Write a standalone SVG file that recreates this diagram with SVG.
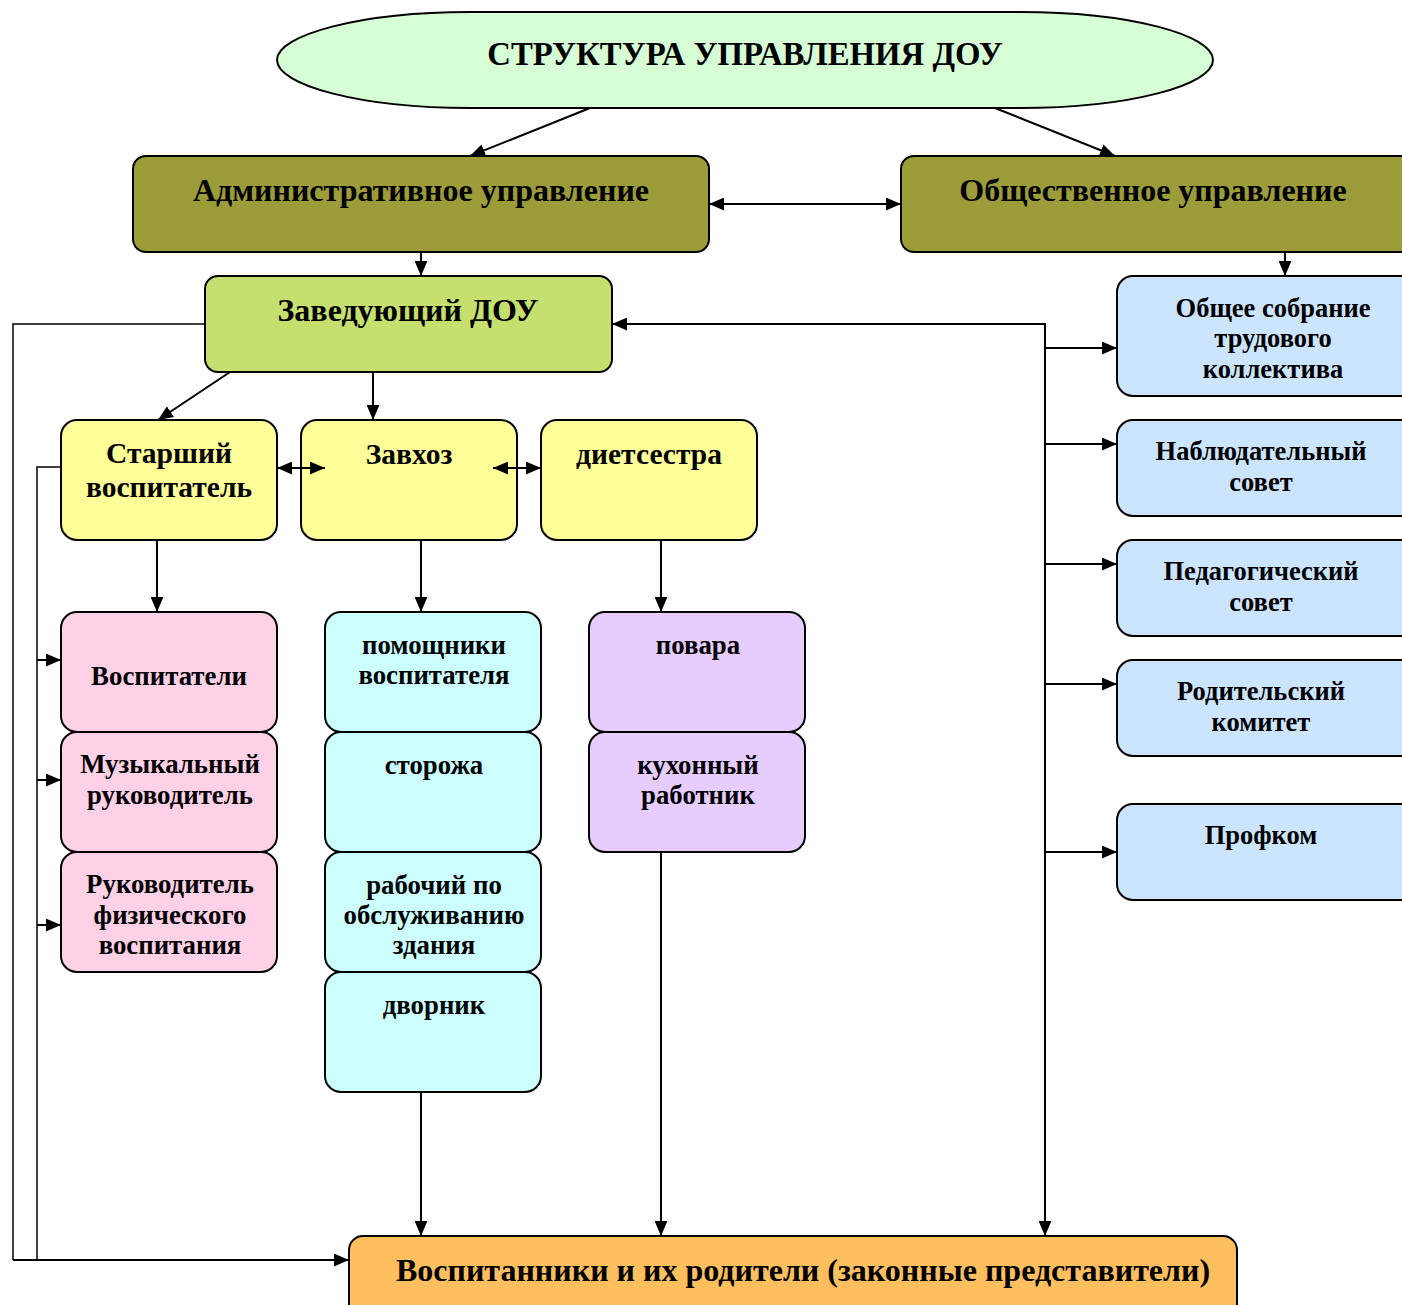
<svg xmlns="http://www.w3.org/2000/svg" width="1402" height="1305" viewBox="0 0 1402 1305">
<defs>
<marker id="ah" viewBox="0 0 14 12" refX="14" refY="6" markerWidth="15" markerHeight="13" markerUnits="userSpaceOnUse" orient="auto-start-reverse">
<path d="M0,0 L14,6 L0,12 Z" fill="#000"/>
</marker>
<style>
.b{stroke:#000;stroke-width:2}
.t{font-family:"Liberation Serif","Times New Roman",serif;font-weight:bold;text-anchor:middle;fill:#000}
.h{font-size:32px}
.y{font-size:29.5px}
.s{font-size:26.8px}
.r{font-size:26.5px}
.c{fill:none;stroke:#000;stroke-width:2}
.c1{fill:none;stroke:#000;stroke-width:1.5}
</style>
</defs>
<rect width="1402" height="1305" fill="#fff"/>

<g id="title">
<path class="b" fill="#D6FFD6" d="M470,12 L1020,12 C1130,12 1213,35 1213,60 C1213,85 1130,108 1020,108 L470,108 C360,108 277,85 277,60 C277,35 360,12 470,12 Z"/>
<text class="t" x="745" y="65" font-size="32.8">СТРУКТУРА УПРАВЛЕНИЯ ДОУ</text>
</g>

<g id="admin">
<rect class="b" x="133" y="156" width="576" height="96" rx="13" fill="#9C9C3A"/>
<text class="t h" x="421" y="201">Административное управление</text>
</g>
<g id="obsh">
<rect class="b" x="901" y="156" width="520" height="96" rx="13" fill="#9C9C3A"/>
<text class="t h" x="1153" y="201">Общественное управление</text>
</g>
<g id="zaved">
<rect class="b" x="205" y="276" width="407" height="96" rx="13" fill="#C5E06E"/>
<text class="t h" x="408" y="321">Заведующий ДОУ</text>
</g>

<g id="starshiy">
<rect class="b" x="61" y="420" width="216" height="120" rx="16" fill="#FFFF99"/>
<text class="t y" x="169" y="463">Старший</text>
<text class="t y" x="169" y="497">воспитатель</text>
</g>
<g id="zavhoz">
<rect class="b" x="301" y="420" width="216" height="120" rx="16" fill="#FFFF99"/>
<text class="t y" x="409" y="464">Завхоз</text>
</g>
<g id="dietsestra">
<rect class="b" x="541" y="420" width="216" height="120" rx="16" fill="#FFFF99"/>
<text class="t y" x="649" y="464">диетсестра</text>
</g>

<g id="vospitateli">
<rect class="b" x="61" y="612" width="216" height="120" rx="16" fill="#FFD1E6"/>
<text class="t s" x="169" y="685">Воспитатели</text>
</g>
<g id="muz">
<rect class="b" x="61" y="732" width="216" height="120" rx="16" fill="#FFD1E6"/>
<text class="t s" x="170" y="773">Музыкальный</text>
<text class="t s" x="170" y="804">руководитель</text>
</g>
<g id="fiz">
<rect class="b" x="61" y="852" width="216" height="120" rx="16" fill="#FFD1E6"/>
<text class="t s" x="170" y="893">Руководитель</text>
<text class="t s" x="170" y="924">физического</text>
<text class="t s" x="170" y="954">воспитания</text>
</g>

<g id="pomoshniki">
<rect class="b" x="325" y="612" width="216" height="120" rx="16" fill="#CCFFFF"/>
<text class="t s" x="434" y="654">помощники</text>
<text class="t s" x="434" y="684">воспитателя</text>
</g>
<g id="storozha">
<rect class="b" x="325" y="732" width="216" height="120" rx="16" fill="#CCFFFF"/>
<text class="t s" x="434" y="774">сторожа</text>
</g>
<g id="rabochiy">
<rect class="b" x="325" y="852" width="216" height="120" rx="16" fill="#CCFFFF"/>
<text class="t s" x="434" y="894">рабочий по</text>
<text class="t s" x="434" y="924">обслуживанию</text>
<text class="t s" x="434" y="954">здания</text>
</g>
<g id="dvornik">
<rect class="b" x="325" y="972" width="216" height="120" rx="16" fill="#CCFFFF"/>
<text class="t s" x="434" y="1014">дворник</text>
</g>

<g id="povara">
<rect class="b" x="589" y="612" width="216" height="120" rx="16" fill="#E6CCFF"/>
<text class="t s" x="698" y="654">повара</text>
</g>
<g id="kuhonniy">
<rect class="b" x="589" y="732" width="216" height="120" rx="16" fill="#E6CCFF"/>
<text class="t s" x="698" y="774">кухонный</text>
<text class="t s" x="698" y="804">работник</text>
</g>

<g id="sobranie">
<rect class="b" x="1117" y="276" width="300" height="120" rx="16" fill="#CCE5FF"/>
<text class="t r" x="1273" y="317">Общее собрание</text>
<text class="t r" x="1273" y="347">трудового</text>
<text class="t r" x="1273" y="378">коллектива</text>
</g>
<g id="nabl">
<rect class="b" x="1117" y="420" width="300" height="96" rx="16" fill="#CCE5FF"/>
<text class="t r" x="1261" y="460">Наблюдательный</text>
<text class="t r" x="1261" y="491">совет</text>
</g>
<g id="ped">
<rect class="b" x="1117" y="540" width="300" height="96" rx="16" fill="#CCE5FF"/>
<text class="t r" x="1261" y="580">Педагогический</text>
<text class="t r" x="1261" y="611">совет</text>
</g>
<g id="rod">
<rect class="b" x="1117" y="660" width="300" height="96" rx="16" fill="#CCE5FF"/>
<text class="t r" x="1261" y="700">Родительский</text>
<text class="t r" x="1261" y="731">комитет</text>
</g>
<g id="profkom">
<rect class="b" x="1117" y="804" width="300" height="96" rx="16" fill="#CCE5FF"/>
<text class="t r" x="1261" y="844">Профком</text>
</g>

<g id="vospitanniki">
<rect class="b" x="349" y="1236" width="888" height="100" rx="14" fill="#FFBF5F"/>
<text class="t h" x="803" y="1281">Воспитанники и их родители (законные представители)</text>
</g>

<g id="connectors">
<line class="c" x1="590" y1="108" x2="470" y2="156" marker-end="url(#ah)"/>
<line class="c" x1="995" y1="108" x2="1115" y2="156" marker-end="url(#ah)"/>
<line class="c" x1="709" y1="204" x2="901" y2="204" marker-start="url(#ah)" marker-end="url(#ah)"/>
<line class="c" x1="421" y1="252" x2="421" y2="276" marker-end="url(#ah)"/>
<line class="c" x1="1285" y1="252" x2="1285" y2="276" marker-end="url(#ah)"/>
<line class="c" x1="230" y1="372" x2="158" y2="420" marker-end="url(#ah)"/>
<line class="c" x1="373" y1="372" x2="373" y2="420" marker-end="url(#ah)"/>
<line class="c" x1="277" y1="468" x2="325" y2="468" marker-start="url(#ah)" marker-end="url(#ah)"/>
<line class="c" x1="493" y1="468" x2="541" y2="468" marker-start="url(#ah)" marker-end="url(#ah)"/>
<line class="c" x1="157" y1="540" x2="157" y2="612" marker-end="url(#ah)"/>
<line class="c" x1="421" y1="540" x2="421" y2="612" marker-end="url(#ah)"/>
<line class="c" x1="661" y1="540" x2="661" y2="612" marker-end="url(#ah)"/>
<line class="c" x1="421" y1="1092" x2="421" y2="1236" marker-end="url(#ah)"/>
<line class="c" x1="661" y1="852" x2="661" y2="1236" marker-end="url(#ah)"/>
<polyline class="c" points="1045,1236 1045,324 612,324" marker-start="url(#ah)" marker-end="url(#ah)"/>
<line class="c" x1="1045" y1="348" x2="1117" y2="348" marker-end="url(#ah)"/>
<line class="c" x1="1045" y1="444" x2="1117" y2="444" marker-end="url(#ah)"/>
<line class="c" x1="1045" y1="564" x2="1117" y2="564" marker-end="url(#ah)"/>
<line class="c" x1="1045" y1="684" x2="1117" y2="684" marker-end="url(#ah)"/>
<line class="c" x1="1045" y1="852" x2="1117" y2="852" marker-end="url(#ah)"/>
<polyline class="c1" points="205,324 13,324 13,1260"/>
<polyline class="c1" points="61,467 37,467 37,1260"/>
<line class="c" x1="13" y1="1260" x2="349" y2="1260" marker-end="url(#ah)"/>
<line class="c" x1="37" y1="660" x2="61" y2="660" marker-end="url(#ah)"/>
<line class="c" x1="37" y1="780" x2="61" y2="780" marker-end="url(#ah)"/>
<line class="c" x1="37" y1="925" x2="61" y2="925" marker-end="url(#ah)"/>
</g>
</svg>
